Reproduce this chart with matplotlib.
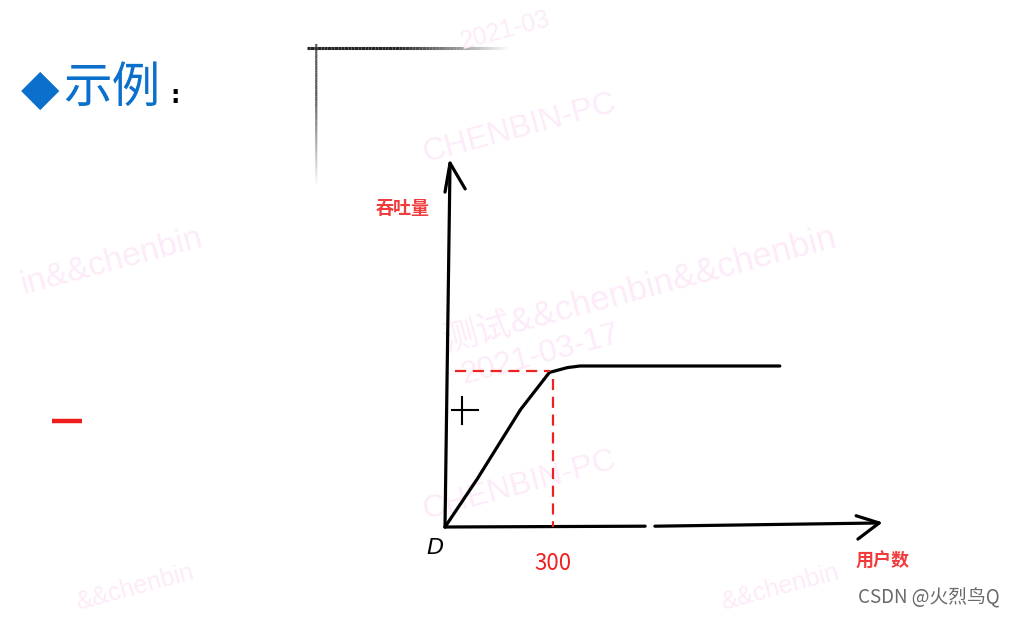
import numpy as np
import matplotlib.pyplot as plt
from matplotlib.collections import LineCollection

plt.rcParams['font.family'] = ['Noto Sans CJK SC', 'DejaVu Sans']

# hand-drawn curve: users -> throughput (arbitrary units, plateau = 100)
users = [0, 90, 210, 290, 340, 375, 930]
throughput = [0, 30, 73, 96, 99, 100, 100]
peak_users = 300
peak_tp = 97
x_label = '用户数'
y_label = '吞吐量'
tick_label = '300'
origin_label = 'D'
title = '示例'
footer = 'CSDN @火烈鸟Q'
watermarks = ['CHENBIN-PC', '测试&&chenbin&&chenbin', 'in&&chenbin', '2021-03-17',
              'CHENBIN-PC', '2021-03', '&&chenbin', '&&chenbin']

W, H = 1015, 619
fig = plt.figure(figsize=(W / 100, H / 100), dpi=100)

def fx(px):
    return px / W

def fy(py):
    return 1 - py / H

# background overlay in pixel space (watermarks, slide decorations)
deco = fig.add_axes([0, 0, 1, 1])
deco.set_xlim(0, W)
deco.set_ylim(H, 0)
deco.axis('off')

wm_pos = [(520, 128), (640, 290), (112, 262), (540, 355), (520, 485), (505, 30), (135, 588), (780, 588)]
wm_size = [23, 25, 24, 23, 23, 18, 18, 18]
for t, (x, y), s in zip(watermarks, wm_pos, wm_size):
    deco.text(x, y, t, color='#fdebfa', fontsize=s, rotation=15,
              ha='center', va='center', family=['Liberation Sans', 'Noto Sans CJK SC'])

# fading grey corner lines at top
n = 60
xs = np.linspace(307, 507, n)
segs = [[(xs[i], 48), (xs[i + 1], 48)] for i in range(n - 1)]
alph = np.clip((507 - xs[:-1]) / 110, 0, 1)
deco.add_collection(LineCollection(segs, colors=[(0.15, 0.15, 0.15, a) for a in alph], linewidths=2.2))
ys = np.linspace(44, 185, n)
segs = [[(316, ys[i]), (316.5, ys[i + 1])] for i in range(n - 1)]
alph = np.clip((185 - ys[:-1]) / 90, 0, 1) * 0.8
deco.add_collection(LineCollection(segs, colors=[(0.2, 0.2, 0.2, a) for a in alph], linewidths=1.6))

# red dash on the left and the small cross
deco.plot([52, 82], [421, 421], color='#ee1c1c', lw=3.2, solid_capstyle='butt')
deco.plot([452, 478], [410, 410], color='black', lw=1.5)
deco.plot([462, 462], [397, 424], color='black', lw=1.5)

# chart axes: origin at pixel (445, 527)
sx, sy = 0.36, 1.61
ax = fig.add_axes([0, 0, 1, 1])
ax.set_xlim(-445 / sx, (W - 445) / sx)
ax.set_ylim(-(H - 527) / sy, 527 / sy)
ax.axis('off')
ax.patch.set_alpha(0)

k = dict(color='black', lw=2.3, solid_capstyle='round', solid_joinstyle='round')
# y axis with arrow
ax.plot([0, 14], [0, 226], **k)
ax.plot([0, 14, 56], [208, 226, 210], **k)
# x axis with arrow (small gap as in the sketch)
ax.plot([0, 556], [0, 0.5], **k)
ax.plot([583, 1206], [0.5, 2.5], **k)
ax.plot([1142, 1206, 1147], [7, 2.5, -7.5], **k)

# curve
ax.plot(users, throughput, **k)

# red dashed guides
ax.plot([28, peak_users - 8], [peak_tp, peak_tp], color='#ee2222', lw=1.6, ls=(0, (5, 3)))
ax.plot([peak_users, peak_users], [peak_tp - 5, 0], color='#ee2222', lw=1.6, ls=(0, (5, 3)))

# labels
fig.text(fx(403), fy(208), y_label, color='#f03c3c', fontsize=13, fontweight='bold', ha='center', va='center')
fig.text(fx(883), fy(561), x_label, color='#f03c3c', fontsize=13, fontweight='bold', ha='center', va='center')
fig.text(fx(553), fy(563), tick_label, color='#ee2222', fontsize=16, ha='center', va='center')
fig.text(fx(435), fy(548), origin_label, color='black', fontsize=16, style='italic', ha='center', va='center',
         family='DejaVu Sans')

fig.text(fx(40), fy(90), '◆', color='#0b6fcc', fontsize=36, ha='center', va='center', family='DejaVu Sans')
fig.text(fx(112), fy(88), title, color='#0b6fcc', fontsize=35, ha='center', va='center')
fig.text(fx(175), fy(96), ':', color='black', fontsize=17, fontweight='bold', ha='center', va='center',
         family='DejaVu Sans')

fig.text(fx(1000), fy(598), footer, color='#6a6a6a', fontsize=13.5, ha='right', va='center')

fig.savefig('out.png', dpi=100)
